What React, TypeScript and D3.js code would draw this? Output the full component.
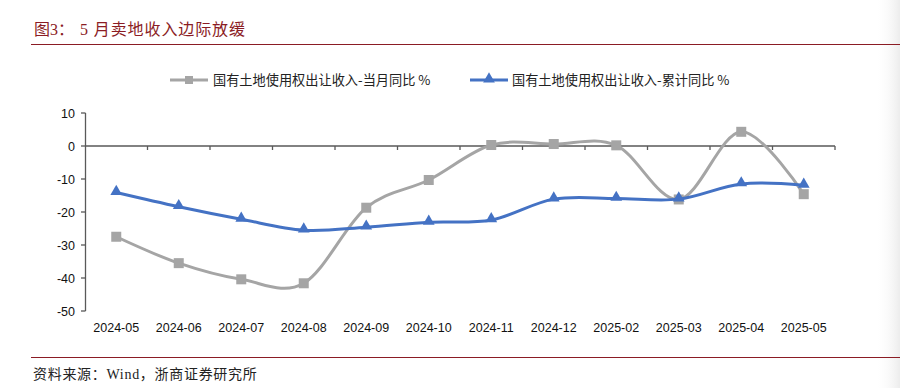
import React from "react";
import * as d3 from "d3";

const categories = ["2024-05","2024-06","2024-07","2024-08","2024-09","2024-10","2024-11","2024-12","2025-02","2025-03","2025-04","2025-05"];
const monthlyYoY = [-27.5,-35.5,-40.4,-41.6,-18.7,-10.3,0.3,0.6,0.2,-16.2,4.3,-14.6];
const cumulativeYoY = [-14.1,-18.4,-22.2,-25.5,-24.6,-23.1,-22.4,-16.1,-15.9,-16.1,-11.5,-11.9];
const yTicks = [10,0,-10,-20,-30,-40,-50];
const seriesNames = ["国有土地使用权出让收入-当月同比 %","国有土地使用权出让收入-累计同比 %"];
const titleLabel = "图3：";
const titleText = "5 月卖地收入边际放缓";
const source = "资料来源：Wind，浙商证券研究所";

export default function App() {
  const W = 900, H = 388;
  const x = d3.scaleBand().domain(categories).range([85, 835]);
  const y = d3.scaleLinear().domain([-50, 10]).range([311, 113]);
  const cx = (c: string) => (x(c) as number) + x.bandwidth() / 2;
  const line = d3.line<number>()
    .x((_, i) => cx(categories[i]))
    .y((d) => y(d))
    .curve(d3.curveCatmullRom.alpha(0));
  const gray = "#A5A5A5", blue = "#4472C4", axis = "#595959";
  const red = "#8B1C24";
  const tri = d3.symbol().type(d3.symbolTriangle).size(60)();
  const tickFont = "'Liberation Sans', Arial, sans-serif";
  const cjk = "'Noto Sans CJK SC', sans-serif";
  const serif = "'Liberation Serif', 'Noto Sans CJK SC', serif";
  return (
    <svg width={W} height={H} style={{ position: "absolute", left: 0, top: 0 }}>
      <defs>
        <linearGradient id="edge" x1="0" x2="1">
          <stop offset="0" stopColor="#fff" stopOpacity={0} />
          <stop offset="1" stopColor="#ececec" stopOpacity={1} />
        </linearGradient>
      </defs>
      <rect width={W} height={H} fill="#fff" />
      <rect x={875} y={0} width={25} height={H} fill="url(#edge)" />
      <text x={34} y={35} fontFamily={serif} fontSize={16} fill={red}>{titleLabel}</text>
      <text x={80} y={35} fontFamily={serif} fontSize={16} fill={red} letterSpacing={0.9}>{titleText}</text>
      <line x1={31} x2={900} y1={44.5} y2={44.5} stroke={red} strokeWidth={1.2} />
      <line x1={31} x2={900} y1={357.5} y2={357.5} stroke={red} strokeWidth={1.2} />
      <text x={33} y={379} fontFamily={serif} fontSize={14} fill="#222" letterSpacing={0.7}>{source}</text>

      {/* legend */}
      <line x1={170} x2={208} y1={80} y2={80} stroke={gray} strokeWidth={3} />
      <rect x={185} y={76} width={8} height={8} fill={gray} />
      <text x={213} y={85} fontFamily={cjk} fontSize={13.2} fill="#222">{seriesNames[0]}</text>
      <line x1={470} x2={508} y1={80} y2={80} stroke={blue} strokeWidth={3} />
      <path d={tri} transform="translate(489,79)" fill={blue} />
      <text x={512} y={85} fontFamily={cjk} fontSize={13.2} fill="#222">{seriesNames[1]}</text>

      {/* y axis */}
      <line x1={85.5} x2={85.5} y1={y(10)} y2={y(-50)} stroke={axis} strokeWidth={1.3} />
      {yTicks.map((t) => (
        <g key={t}>
          <line x1={81} x2={85.5} y1={y(t)} y2={y(t)} stroke={axis} strokeWidth={1.3} />
          <text x={75} y={y(t) + 4.5} textAnchor="end" fontFamily={tickFont} fontSize={12.5} fill="#111">{t}</text>
        </g>
      ))}
      {/* x axis at 0 */}
      <line x1={85} x2={835} y1={y(0)} y2={y(0)} stroke={axis} strokeWidth={1.3} />
      {categories.map((c) => (
        <line key={"t" + c} x1={(x(c) as number) + x.bandwidth()} x2={(x(c) as number) + x.bandwidth()} y1={y(0)} y2={y(0) + 4} stroke={axis} strokeWidth={1.3} />
      ))}
      {categories.map((c) => (
        <text key={"l" + c} x={cx(c)} y={332} textAnchor="middle" fontFamily={tickFont} fontSize={12.5} fill="#111">{c}</text>
      ))}

      {/* series */}
      <path d={line(monthlyYoY) as string} fill="none" stroke={gray} strokeWidth={3} />
      {monthlyYoY.map((v, i) => (
        <rect key={"m" + i} x={cx(categories[i]) - 5} y={y(v) - 5} width={10} height={10} fill={gray} />
      ))}
      <path d={line(cumulativeYoY) as string} fill="none" stroke={blue} strokeWidth={3} />
      {cumulativeYoY.map((v, i) => (
        <path key={"c" + i} d={tri} transform={`translate(${cx(categories[i])},${y(v) - 1})`} fill={blue} />
      ))}
    </svg>
  );
}
